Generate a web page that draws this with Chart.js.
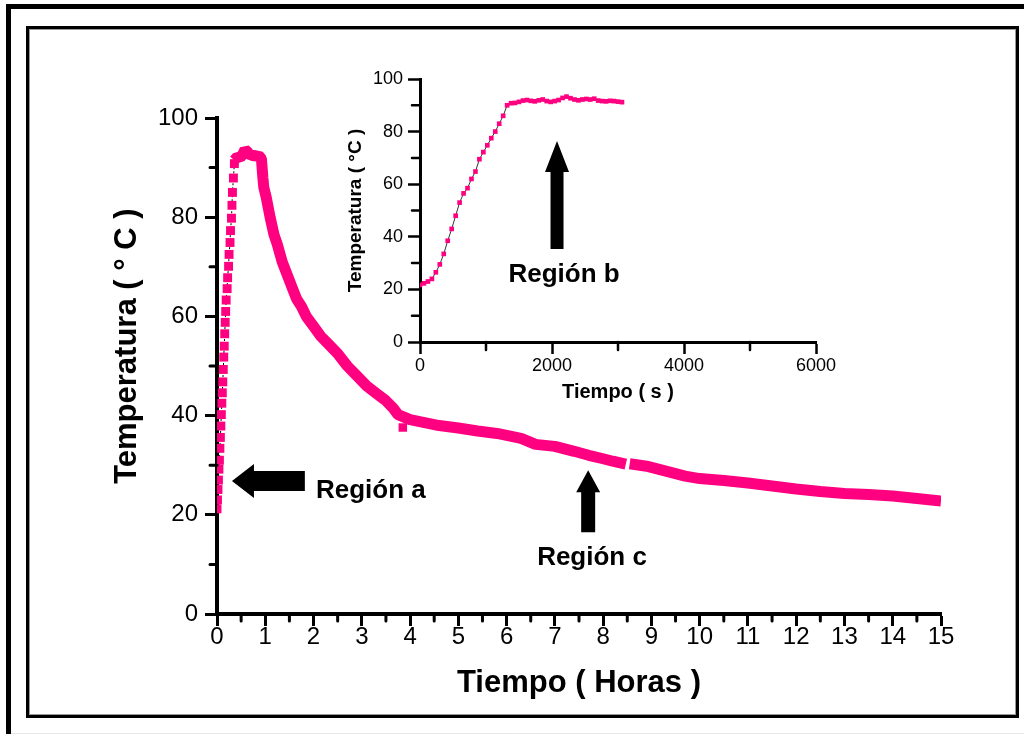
<!DOCTYPE html>
<html>
<head>
<meta charset="utf-8">
<title>Temperatura vs tiempo</title>
<script src="https://cdn.jsdelivr.net/npm/chart.js@4.4.0/dist/chart.umd.min.js"></script>
<style>
  html, body { margin: 0; padding: 0; background: #fff; overflow: hidden; }
  #wrap { position: relative; width: 1024px; height: 734px; }
  #mainChart { position: absolute; left: 0; top: 0; }
  #insetChart { position: absolute; left: 330px; top: 55px; }
</style>
</head>
<body>
<div id="wrap">
  <canvas id="mainChart" width="1024" height="734"></canvas>
  <canvas id="insetChart" width="520" height="360"></canvas>
</div>
<script>
// heating ramp, hours / deg C (sparse points, drawn as markers)
const riseHours = [0.00, 0.01, 0.02, 0.03, 0.04, 0.05, 0.06, 0.07, 0.08, 0.09, 0.10, 0.11, 0.12, 0.13, 0.14, 0.15,
                   0.16, 0.17, 0.18, 0.19, 0.21, 0.22, 0.24, 0.25, 0.27, 0.28, 0.30, 0.31, 0.32, 0.34, 0.36];
const riseTemps = [21.2, 23.0, 25.1, 27.0, 29.2, 31.0, 33.4, 35.6, 37.9, 40.2, 42.5, 44.6, 46.8, 49.3, 51.8, 54.0,
                   56.5, 58.8, 61.0, 63.3, 65.6, 67.8, 70.1, 72.5, 74.9, 77.3, 79.8, 82.4, 85.0, 87.9, 90.8];

// plateau + cooling, hours / deg C (dense logging, null = lost samples)
const coolHours = [0.36, 0.42, 0.48, 0.54, 0.58, 0.63, 0.68, 0.74, 0.80, 0.86, 0.92, 0.95,
                   0.97, 1.02, 1.10, 1.18, 1.25, 1.35, 1.45, 1.55, 1.65, 1.75, 1.85, 2.00, 2.15, 2.30, 2.50, 2.70,
                   2.90, 3.10, 3.30, 3.50, 3.65, 3.75, 3.85, 4.00, 4.30, 4.60, 5.00, 5.40, 5.80, 6.00, 6.30, 6.50,
                   6.60, 7.00, 7.40, 7.70, 8.00, 8.20, 8.47, 8.51, 8.55, 8.90, 9.30, 9.70, 10.0, 10.5, 11.0, 11.5,
                   12.0, 12.5, 13.0, 13.5, 14.0, 14.5, 15.0];
const coolTemps = [91.5, 92.2, 92.0, 92.8, 93.6, 93.2, 92.4, 92.6, 92.2, 92.5, 91.8, 88.0,
                   86.0, 84.0, 80.0, 76.5, 74.5, 71.0, 68.5, 66.0, 63.5, 62.0, 60.0, 58.0, 56.0, 54.5, 52.5, 50.0,
                   48.0, 46.0, 44.5, 43.0, 41.5, 40.2, 39.8, 39.2, 38.6, 38.0, 37.5, 36.9, 36.4, 36.0, 35.4, 34.6,
                   34.2, 33.8, 32.8, 32.0, 31.3, 30.8, 30.2, null, 30.3, 29.8, 28.8, 27.8, 27.3, 26.9, 26.4, 25.8,
                   25.2, 24.7, 24.3, 24.1, 23.8, 23.3, 22.8];

// single stray reading
const strayHours = [3.85];
const strayTemps = [37.6];

// first ~50 min, seconds / deg C
const insetSeconds = [0, 60, 120, 180, 240, 300, 360, 420, 480, 540, 600, 660, 720, 780, 840, 900, 960, 1020,
                      1080, 1140, 1200, 1260, 1320, 1380, 1440, 1500, 1560, 1620, 1680, 1740, 1800, 1860, 1920,
                      1980, 2040, 2100, 2160, 2220, 2280, 2340, 2400, 2460, 2520, 2580, 2640, 2700, 2760, 2820,
                      2880, 2940, 3000, 3060];
const insetTemps = [21.7, 22.3, 23.0, 24.0, 26.5, 29.5, 33.5, 38.5, 43.0, 48.0, 53.0, 56.5, 58.5, 62.0, 64.8, 69.5,
                    72.2, 74.8, 77.5, 80.0, 83.0, 86.0, 90.0, 90.8, 90.9, 91.3, 91.8, 92.0, 91.7, 91.5, 91.9, 92.2,
                    91.6, 91.3, 91.6, 92.0, 92.8, 93.3, 92.7, 92.2, 91.9, 92.2, 92.4, 92.2, 92.5, 91.8, 91.6, 91.5,
                    91.7, 91.6, 91.4, 91.2];

// axis tick values
const hourTicks = [0, 1, 2, 3, 4, 5, 6, 7, 8, 9, 10, 11, 12, 13, 14, 15];
const tempTicks = [0, 20, 40, 60, 80, 100];
const secondTicks = [0, 2000, 4000, 6000];

const PINK = '#ff0080';
const FONT = '"Liberation Sans", Arial, sans-serif';
Chart.defaults.font.family = FONT;
Chart.defaults.color = '#000';

function pairs(xs, ys) {
  return xs.map((x, i) => ({ x: x, y: ys[i] }));
}

function fixedTicks(values) {
  return scale => { scale.ticks = values.map(v => ({ value: v })); };
}

const plainNumber = v => String(v);

// white page with the double border round it
const frame = {
  id: 'frame',
  beforeDraw(chart) {
    const ctx = chart.ctx;
    ctx.save();
    ctx.fillStyle = '#fff';
    ctx.fillRect(0, 0, chart.width, chart.height);
    ctx.fillStyle = '#000';
    ctx.fillRect(6, 4, chart.width - 6, 5);
    ctx.fillRect(6, 4, 5, chart.height - 4);
    ctx.strokeStyle = '#000';
    ctx.lineWidth = 3;
    ctx.strokeRect(27.5, 27.5, 990, 689);
    ctx.strokeStyle = '#999';
    ctx.lineWidth = 1;
    ctx.strokeRect(29.5, 29.5, 986, 685);
    ctx.strokeStyle = '#e8e8e8';
    ctx.beginPath();
    ctx.moveTo(11, 733.5);
    ctx.lineTo(chart.width, 733.5);
    ctx.stroke();
    ctx.restore();
  }
};

// half-step ticks between the labelled ones
const minorTicks = {
  id: 'minorTicks',
  afterDraw(chart, args, opts) {
    const { ctx, scales: { x, y } } = chart;
    ctx.save();
    ctx.strokeStyle = '#000';
    ctx.lineWidth = opts.width;
    ctx.lineCap = 'round';
    ctx.beginPath();
    for (let v = opts.xStep; v < x.max; v += 2 * opts.xStep) {
      const px = x.getPixelForValue(v);
      ctx.moveTo(px, y.bottom);
      ctx.lineTo(px, y.bottom + opts.len);
    }
    for (let v = opts.yStep; v < y.max; v += 2 * opts.yStep) {
      const py = y.getPixelForValue(v);
      ctx.moveTo(x.left, py);
      ctx.lineTo(x.left - opts.len, py);
    }
    ctx.stroke();
    ctx.restore();
  }
};

// vertical y title that sits a bit above the middle of the axis
const sideTitle = {
  id: 'sideTitle',
  afterDraw(chart, args, opts) {
    const { ctx, chartArea, scales: { y } } = chart;
    ctx.save();
    ctx.translate(chartArea.left - opts.offset, y.getPixelForValue(opts.at));
    ctx.rotate(-Math.PI / 2);
    ctx.font = 'bold ' + opts.size + 'px ' + FONT;
    ctx.fillStyle = '#000';
    ctx.textAlign = 'center';
    ctx.textBaseline = 'middle';
    ctx.fillText(opts.text, 0, 0);
    ctx.restore();
  }
};

// block arrows and "Región" captions, placed in data units
const callouts = {
  id: 'callouts',
  afterDatasetsDraw(chart, args, opts) {
    const { ctx, scales: { x, y } } = chart;
    ctx.save();
    ctx.fillStyle = '#000';
    for (const a of opts.arrows) {
      const tx = x.getPixelForValue(a.tip[0]), ty = y.getPixelForValue(a.tip[1]);
      const bx = x.getPixelForValue(a.tail[0]), by = y.getPixelForValue(a.tail[1]);
      const len = Math.hypot(bx - tx, by - ty);
      const ux = (bx - tx) / len, uy = (by - ty) / len;
      const nx = -uy, ny = ux;
      const hx = tx + ux * a.head, hy = ty + uy * a.head;
      ctx.beginPath();
      ctx.moveTo(tx, ty);
      ctx.lineTo(hx + nx * a.headHalf, hy + ny * a.headHalf);
      ctx.lineTo(hx + nx * a.shaftHalf, hy + ny * a.shaftHalf);
      ctx.lineTo(bx + nx * a.shaftHalf, by + ny * a.shaftHalf);
      ctx.lineTo(bx - nx * a.shaftHalf, by - ny * a.shaftHalf);
      ctx.lineTo(hx - nx * a.shaftHalf, hy - ny * a.shaftHalf);
      ctx.lineTo(hx - nx * a.headHalf, hy - ny * a.headHalf);
      ctx.closePath();
      ctx.fill();
    }
    ctx.textBaseline = 'middle';
    for (const t of opts.labels) {
      ctx.font = 'bold ' + t.size + 'px ' + FONT;
      ctx.textAlign = t.align;
      ctx.fillText(t.text, x.getPixelForValue(t.at[0]), y.getPixelForValue(t.at[1]));
    }
    ctx.restore();
  }
};

new Chart(document.getElementById('mainChart'), {
  type: 'scatter',
  data: {
    datasets: [
      {
        data: pairs(riseHours, riseTemps),
        showLine: true,
        borderColor: '#000',
        borderWidth: 1,
        borderDash: [2, 2],
        pointStyle: 'rect',
        pointRadius: 6.3,
        pointBackgroundColor: PINK,
        pointBorderWidth: 0,
        order: 0
      },
      {
        data: pairs(strayHours, strayTemps),
        pointStyle: 'rect',
        pointRadius: 6,
        pointBackgroundColor: PINK,
        pointBorderWidth: 0,
        order: 1
      },
      {
        data: pairs(coolHours, coolTemps),
        showLine: true,
        spanGaps: false,
        borderColor: PINK,
        borderWidth: 11,
        borderJoinStyle: 'bevel',
        pointRadius: 0,
        order: 2
      }
    ]
  },
  options: {
    responsive: false,
    animation: false,
    events: [],
    layout: { padding: { left: 0, right: 83, top: 118, bottom: 20 } },
    plugins: {
      legend: { display: false },
      tooltip: { enabled: false },
      minorTicks: { xStep: 0.5, yStep: 10, len: 7, width: 3 },
      sideTitle: { text: 'Temperatura ( ° C )', at: 54, offset: 90, size: 31 },
      callouts: {
        arrows: [
          { tip: [0.31, 26.8], tail: [1.82, 26.8], head: 22, headHalf: 17, shaftHalf: 10 },
          { tip: [7.69, 29.0], tail: [7.69, 16.5], head: 22, headHalf: 12, shaftHalf: 7 }
        ],
        labels: [
          { text: 'Región a', at: [2.05, 24.8], align: 'left', size: 26 },
          { text: 'Región c', at: [7.77, 11.3], align: 'center', size: 26 }
        ]
      }
    },
    scales: {
      x: {
        type: 'linear',
        min: 0,
        max: 15,
        afterBuildTicks: fixedTicks(hourTicks),
        afterFit: s => { s.height = 100; },
        border: { color: '#000', width: 4 },
        grid: { drawOnChartArea: false, tickLength: 12, tickWidth: 3, tickColor: '#000' },
        ticks: { font: { size: 24 }, padding: -3, maxRotation: 0, callback: plainNumber },
        title: { display: true, text: 'Tiempo ( Horas )', font: { size: 31, weight: 'bold' }, padding: { top: 0, bottom: 12 } }
      },
      y: {
        type: 'linear',
        min: 0,
        max: 100,
        afterBuildTicks: fixedTicks(tempTicks),
        afterFit: s => { s.width = 217; },
        border: { color: '#000', width: 4 },
        grid: { drawOnChartArea: false, tickLength: 12, tickWidth: 3, tickColor: '#000' },
        ticks: { font: { size: 24 }, padding: 7, callback: plainNumber },
        title: { display: false }
      }
    }
  },
  plugins: [frame, minorTicks, sideTitle, callouts]
});

new Chart(document.getElementById('insetChart'), {
  type: 'scatter',
  data: {
    datasets: [
      {
        data: pairs(insetSeconds, insetTemps),
        showLine: true,
        borderColor: '#000',
        borderWidth: 0.8,
        pointStyle: 'rect',
        pointRadius: 3.3,
        pointBackgroundColor: PINK,
        pointBorderWidth: 0
      }
    ]
  },
  options: {
    responsive: false,
    animation: false,
    events: [],
    layout: { padding: { left: 0, right: 34, top: 24, bottom: 11 } },
    plugins: {
      legend: { display: false },
      tooltip: { enabled: false },
      minorTicks: { xStep: 1000, yStep: 10, len: 8, width: 2.5 },
      callouts: {
        arrows: [
          { tip: [2076, 76.4], tail: [2076, 35.4], head: 31, headHalf: 12, shaftHalf: 6.5 }
        ],
        labels: [
          { text: 'Región b', at: [2182, 25.5], align: 'center', size: 26 }
        ]
      }
    },
    scales: {
      x: {
        type: 'linear',
        min: 0,
        max: 6000,
        afterBuildTicks: fixedTicks(secondTicks),
        afterFit: s => { s.height = 62; },
        border: { color: '#000', width: 3 },
        grid: { drawOnChartArea: false, tickLength: 12, tickWidth: 2.5, tickColor: '#000' },
        ticks: { font: { size: 18 }, padding: 1, maxRotation: 0, callback: plainNumber },
        title: { display: true, text: 'Tiempo ( s )', font: { size: 20, weight: 'bold' }, padding: { top: 0, bottom: 0 } }
      },
      y: {
        type: 'linear',
        min: 0,
        max: 100,
        afterBuildTicks: fixedTicks(tempTicks),
        afterFit: s => { s.width = 90; },
        border: { color: '#000', width: 3 },
        grid: { drawOnChartArea: false, tickLength: 12, tickWidth: 2.5, tickColor: '#000' },
        ticks: { font: { size: 18 }, padding: 5, callback: plainNumber },
        title: { display: true, text: 'Temperatura ( °C )', font: { size: 19, weight: 'bold' }, padding: { top: 14, bottom: 0 } }
      }
    }
  },
  plugins: [minorTicks, callouts]
});
</script>
</body>
</html>
